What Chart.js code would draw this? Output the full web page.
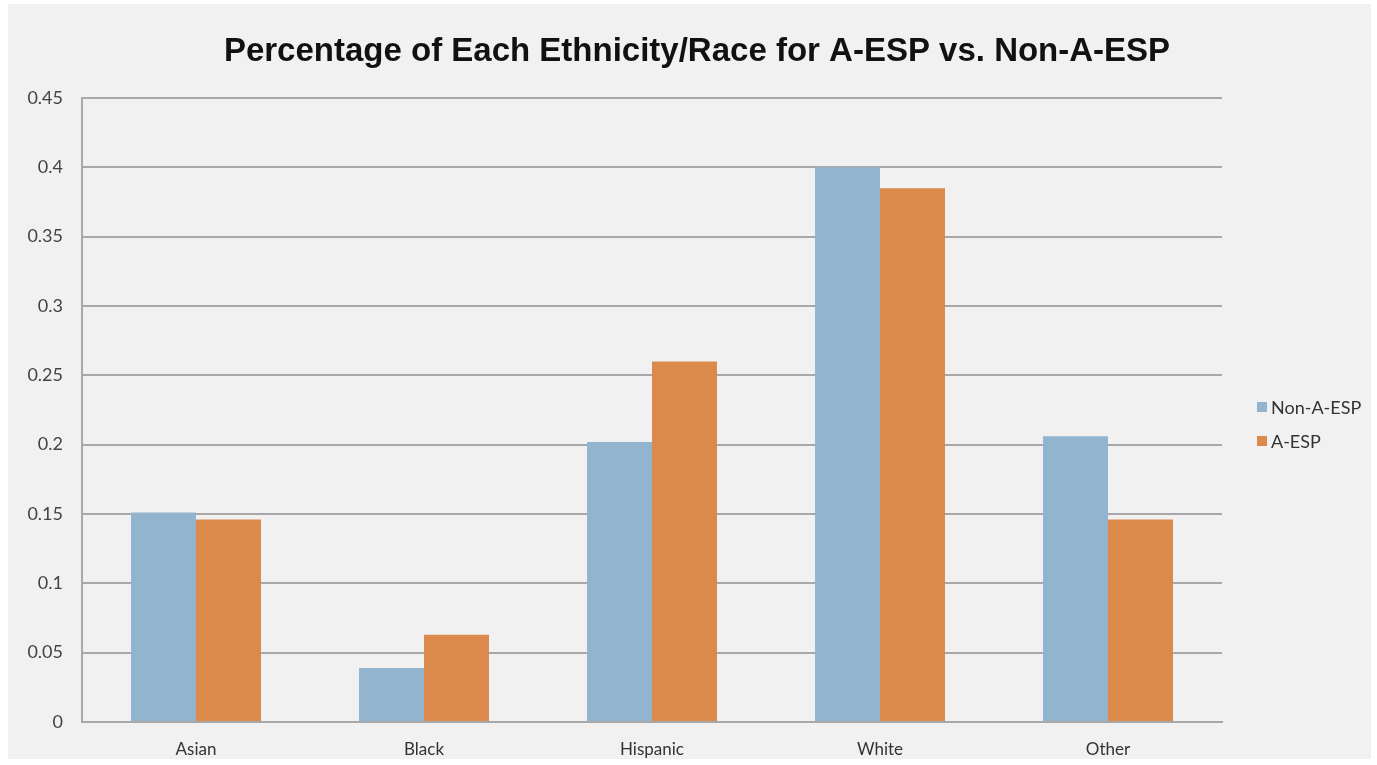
<!DOCTYPE html>
<html>
<head>
<meta charset="utf-8">
<script src="https://cdn.jsdelivr.net/npm/chart.js@4"></script>
<style>
  html, body { margin: 0; padding: 0; background: #ffffff; }
  #frame { position: absolute; left: 8px; top: 4px; width: 1363px; height: 755px; background: #f0f1f0; }
  #wrap { position: absolute; left: 0; top: 0; width: 1377px; height: 765px; }
  #legend { position: absolute; left: 1257px; top: 390px; font-family: Lato, "Open Sans", sans-serif; font-size: 18px; color: #333; }
  #legend div { height: 34px; display: flex; align-items: center; }
  #legend span.box { width: 10px; height: 10px; margin-right: 4px; display: inline-block; }
</style>
</head>
<body>
<div id="frame"></div>
<div id="wrap"><canvas id="chart" width="1377" height="765"></canvas></div>
<div id="legend"></div>
<script>
const categories = ["Asian", "Black", "Hispanic", "White", "Other"];
const nonAEsp = [0.151, 0.039, 0.202, 0.400, 0.206];
const aEsp = [0.146, 0.063, 0.260, 0.385, 0.146];
const seriesNames = ["Non-A-ESP", "A-ESP"];
const seriesColors = ["#92b4cf", "#dc894c"];
const titleText = "Percentage of Each Ethnicity/Race for A-ESP vs. Non-A-ESP";

const legendNode = document.querySelector("#legend");
legendNode.innerHTML = seriesNames
  .map((name, i) => `<div><span class="box" style="background:${seriesColors[i]}"></span>${name}</div>`)
  .join("");

const tickFamily = "Lato, 'Open Sans', sans-serif";

// title drawn centred on the whole picture, not just the plot
const pageTitle = {
  id: "pageTitle",
  afterDraw(chart) {
    const ctx = chart.ctx;
    ctx.save();
    ctx.font = "bold 33px 'Liberation Sans', Arial, sans-serif";
    ctx.fillStyle = "#111";
    ctx.textAlign = "center";
    ctx.textBaseline = "middle";
    ctx.fillText(titleText, 697, 52);
    ctx.restore();
  },
};

new Chart(document.querySelector("#chart"), {
  type: "bar",
  data: {
    labels: categories,
    datasets: [
      { label: seriesNames[0], data: nonAEsp, backgroundColor: seriesColors[0] },
      { label: seriesNames[1], data: aEsp, backgroundColor: seriesColors[1] },
    ],
  },
  plugins: [pageTitle],
  options: {
    responsive: false,
    animation: false,
    layout: { padding: { left: 0, right: 155, top: 98, bottom: 0 } },
    datasets: { bar: { categoryPercentage: 0.57, barPercentage: 1.0 } },
    plugins: {
      legend: { display: false },
      tooltip: { enabled: false },
      title: { display: false },
    },
    scales: {
      x: {
        grid: { display: false },
        border: { color: "#a8a8a8", width: 2 },
        ticks: { color: "#333", font: { family: tickFamily, size: 17 }, padding: 9 },
        afterFit: (scale) => { scale.height = 43; },
      },
      y: {
        min: 0,
        max: 0.45,
        ticks: {
          stepSize: 0.05,
          color: "#444",
          font: { family: tickFamily, size: 18 },
          padding: 19,
          callback: (v) => String(Math.round(v * 100) / 100),
        },
        grid: { color: "#a8a8a8", lineWidth: 2, drawTicks: false },
        border: { color: "#a8a8a8", width: 2 },
        afterFit: (scale) => { scale.width = 82; },
      },
    },
  },
});
</script>
</body>
</html>
